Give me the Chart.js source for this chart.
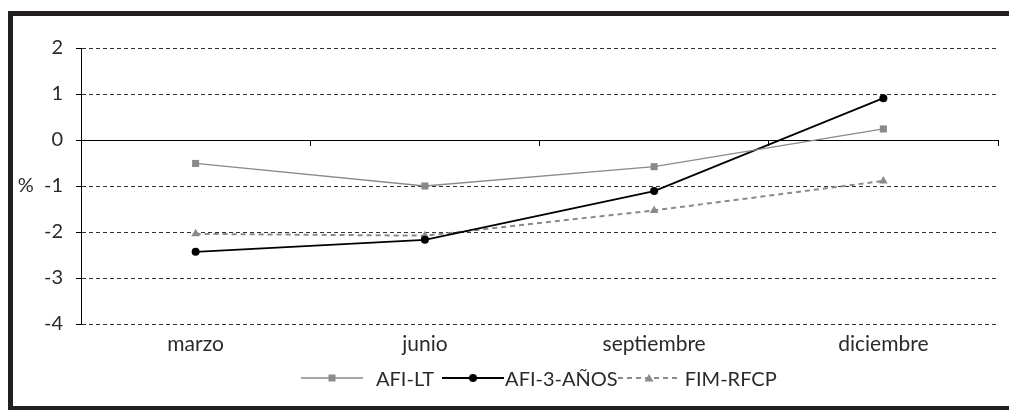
<!DOCTYPE html>
<html><head><meta charset="utf-8">
<script src="https://cdn.jsdelivr.net/npm/chart.js@4"></script>
<style>
html,body{margin:0;padding:0;background:#fff;overflow:hidden;}
#wrap{position:relative;width:1009px;height:410px;}
#cv{position:absolute;left:0;top:0;}
#frame{position:absolute;left:8px;top:11px;width:1020px;height:390px;border:5px solid #231f20;pointer-events:none;}
#legend{position:absolute;top:364px;left:301px;height:28px;display:flex;align-items:center;font-family:Lato,sans-serif;font-size:20px;color:#2a2a2a;white-space:nowrap;}
#legend .item{display:flex;align-items:center;}
#legend svg{display:block;}
</style></head>
<body>
<div id="wrap">
<canvas id="cv" width="1009" height="410"></canvas>
<div id="frame"></div>
<div id="legend"></div>
</div>
<script>
const categories = ['marzo', 'junio', 'septiembre', 'diciembre'];
const seriesNames = ['AFI-LT', 'AFI-3-AÑOS', 'FIM-RFCP'];
const afiLT = [-0.51, -1.00, -0.58, 0.24];
const afi3Anos = [-2.43, -2.17, -1.11, 0.91];
const fimRFCP = [-2.04, -2.08, -1.53, -0.89];
const yMin = -4, yMax = 2, yStep = 1;

const FONT = 'Lato, sans-serif';
const styles = [
  {color:'#8a8a8a', width:1.3, dash:[], point:'rect', radius:5},
  {color:'#000000', width:1.8, dash:[], point:'circle', radius:4},
  {color:'#8a8a8a', width:2, dash:[5,4], point:'triangle', radius:5}
];
const seriesData = [afiLT, afi3Anos, fimRFCP];

const datasets = seriesNames.map((n, i) => ({
  label: n,
  data: seriesData[i],
  borderColor: styles[i].color,
  backgroundColor: styles[i].color,
  borderWidth: styles[i].width,
  borderDash: styles[i].dash,
  pointStyle: styles[i].point,
  pointRadius: styles[i].radius,
  pointBorderWidth: 0,
  pointBackgroundColor: styles[i].color,
  tension: 0,
  fill: false
}));

new Chart(document.getElementById('cv'), {
  type: 'line',
  data: { labels: categories, datasets },
  options: {
    responsive: false,
    animation: false,
    events: [],
    layout: { padding: { left: 0, top: 48, right: 11, bottom: 46 } },
    plugins: { legend: { display: false }, tooltip: { enabled: false } },
    scales: {
      x: {
        type: 'category',
        offset: true,
        position: 'bottom',
        grid: { display: false },
        border: { display: false },
        ticks: { color: '#2a2a2a', font: { family: FONT, size: 21 }, padding: 0, maxRotation: 0 },
        afterFit: s => { s.height = 40; }
      },
      x2: {
        type: 'category',
        labels: categories,
        offset: true,
        position: { y: 0 },
        grid: { drawOnChartArea: false, drawTicks: true, tickLength: 5, tickColor: '#000', color: '#000', offset: true },
        border: { display: true, color: '#000', width: 1 },
        ticks: { display: false }
      },
      y: {
        min: yMin, max: yMax,
        position: 'left',
        grid: {
          color: ctx => (ctx.tick && ctx.tick.value === 0) ? 'rgba(0,0,0,0)' : '#333',
          lineWidth: 1,
          drawTicks: true, tickLength: 5, tickColor: '#000', tickBorderDash: []
        },
        border: { display: true, color: '#000', width: 1, dash: [4, 3] },
        ticks: {
          stepSize: yStep,
          color: '#2a2a2a',
          font: { family: FONT, size: 20 },
          padding: 13,
          callback: v => (v === -1 ? '%  -1' : String(v))
        },
        afterFit: s => { s.width = 81; }
      }
    }
  }
});

// HTML legend built from the series styles
const legend = document.getElementById('legend');
const textMargins = [[13, 8], [1, 0], [5, 0]];
seriesNames.forEach((n, i) => {
  const st = styles[i];
  const w = 62, h = 14, cx = w / 2, cy = h / 2;
  let marker = '';
  if (st.point === 'rect') marker = `<rect x="${cx-3.5}" y="${cy-3.5}" width="7" height="7" fill="${st.color}"/>`;
  else if (st.point === 'circle') marker = `<circle cx="${cx}" cy="${cy}" r="4" fill="${st.color}"/>`;
  else marker = `<polygon points="${cx-4.5},${cy+3.5} ${cx+4.5},${cy+3.5} ${cx},${cy-4}" fill="${st.color}"/>`;
  const dash = st.dash.length ? `stroke-dasharray="${st.dash.join(',')}"` : '';
  const item = document.createElement('div');
  item.className = 'item';
  item.innerHTML = `<svg width="${w}" height="${h}"><line x1="0" y1="${cy}" x2="${w}" y2="${cy}" stroke="${st.color}" stroke-width="${st.width}" ${dash}/>${marker}</svg><span style="margin:0 ${textMargins[i][1]}px 0 ${textMargins[i][0]}px">${n}</span>`;
  legend.appendChild(item);
});
</script>
</body></html>
